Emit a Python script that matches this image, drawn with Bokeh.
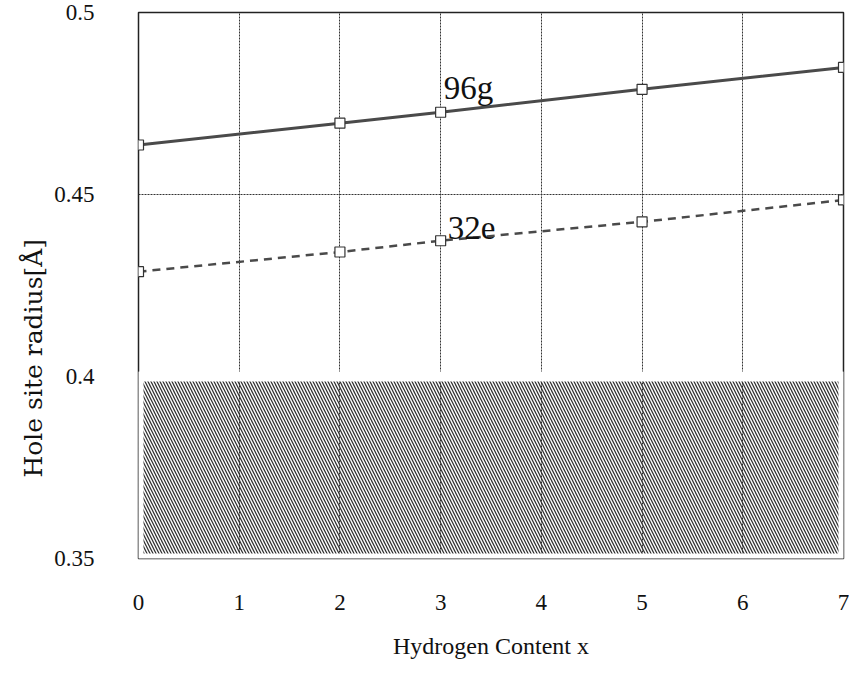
from bokeh.plotting import figure
from bokeh.models import FixedTicker, Range1d, Label, Title
from bokeh.embed import file_html
from bokeh.resources import INLINE

# Data
hydrogen_x = [0, 2, 3, 5, 7]
radius_96g = [0.4636, 0.4696, 0.4726, 0.4789, 0.4849]
radius_32e = [0.4288, 0.4342, 0.4373, 0.4425, 0.4485]
x_ticks = [0, 1, 2, 3, 4, 5, 6, 7]
y_ticks = [0.35, 0.4, 0.45, 0.5]
y_tick_labels = ["0.35", "0.4", "0.45", "0.5"]
forbidden_left, forbidden_right = 0, 7
forbidden_bottom, forbidden_top = 0.35, 0.4

SERIF = "Liberation Serif"

p = figure(width=849, height=683, output_backend="svg", toolbar_location=None,
           x_range=Range1d(0, 7), y_range=Range1d(0.35, 0.5),
           min_border_left=138, min_border_right=6, min_border_top=12, min_border_bottom=125)

p.outline_line_color = "#222222"
p.outline_line_width = 1.5
p.background_fill_color = "white"
p.border_fill_color = "white"

# grid
for g in (p.xgrid[0], p.ygrid[0]):
    g.grid_line_color = "#333333"
    g.grid_line_width = 1
    g.grid_line_dash = "2 1"
p.xgrid[0].ticker = FixedTicker(ticks=x_ticks)
p.ygrid[0].ticker = FixedTicker(ticks=y_ticks)

# axes
xax = p.xaxis[0]
yax = p.yaxis[0]
xax.ticker = FixedTicker(ticks=x_ticks)
yax.ticker = FixedTicker(ticks=y_ticks)
yax.major_label_overrides = {t: l for t, l in zip(y_ticks, y_tick_labels)}
for ax in (xax, yax):
    ax.axis_line_color = None
    ax.major_tick_line_color = None
    ax.minor_tick_line_color = None
    ax.major_label_text_font = SERIF
    ax.major_label_text_font_size = "23px"
    ax.major_label_text_color = "#111111"
xax.major_label_standoff = 30
yax.major_label_standoff = 38
xax.axis_label = "Hydrogen Content x"
xax.axis_label_text_font = SERIF
xax.axis_label_text_font_size = "24px"
xax.axis_label_text_font_style = "normal"
xax.axis_label_text_color = "#111111"
xax.axis_label_standoff = 20

# y axis label as a left-side title, shifted down
ytitle = Title(text="Hole site radius[Å]", align="left", offset=81,
               text_font="DejaVu Serif", text_font_size="25px", text_font_style="normal",
               text_color="#111111", standoff=8)
p.add_layout(ytitle, "left")

# hatched forbidden region
p.quad(left=[forbidden_left], right=[forbidden_right], bottom=[forbidden_bottom], top=[forbidden_top],
       fill_color=None, line_color="white", line_width=10,
       hatch_pattern="left_diagonal_line", hatch_color="#333333", hatch_scale=6, hatch_weight=1.3)

# series
p.line(hydrogen_x, radius_96g, line_color="#4a4a4a", line_width=3)
p.scatter(hydrogen_x, radius_96g, marker="square", size=10, fill_color="white",
          line_color="#333333", line_width=1.2)
p.line(hydrogen_x, radius_32e, line_color="#4a4a4a", line_width=2.5, line_dash="8 6")
p.scatter(hydrogen_x, radius_32e, marker="square", size=10, fill_color="white",
          line_color="#333333", line_width=1.2)

# series labels
p.add_layout(Label(x=3.03, y=0.4792, text="96g", text_font=SERIF, text_font_size="33px",
                   text_color="#111111", text_baseline="alphabetic"))
p.add_layout(Label(x=3.07, y=0.4408, text="32e", text_font=SERIF, text_font_size="33px",
                   text_color="#111111", text_baseline="alphabetic"))

open("out.html", "w").write(file_html(p, INLINE))
